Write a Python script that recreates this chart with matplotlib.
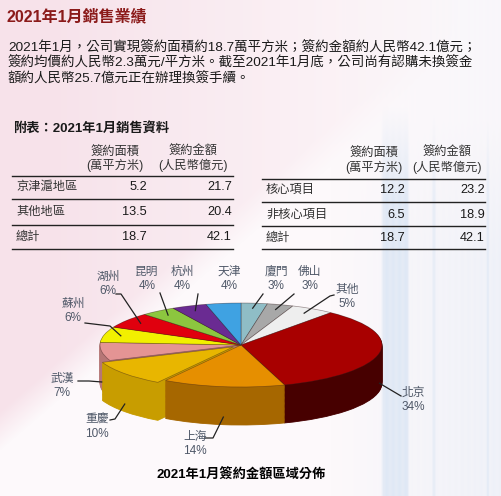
import numpy as np
import matplotlib
matplotlib.use('Agg')
import matplotlib.pyplot as plt
from matplotlib.colors import to_rgb

plt.rcParams['font.family'] = ['Liberation Sans', 'Noto Sans CJK TC', 'DejaVu Sans']

# ---- data ----
title = '2021年1月銷售業績'
para = ['2021年1月，公司實現簽約面積約18.7萬平方米；簽約金額約人民幣42.1億元；',
        '簽約均價約人民幣2.3萬元/平方米。截至2021年1月底，公司尚有認購未換簽金',
        '額約人民幣25.7億元正在辦理換簽手續。']
table_title = '附表：2021年1月銷售資料'
col_heads = [('簽約面積', '(萬平方米)'), ('簽約金額', '(人民幣億元)')]

region_rows = ['京津滬地區', '其他地區', '總計']
region_area = [5.2, 13.5, 18.7]
region_amount = [21.7, 20.4, 42.1]

project_rows = ['核心項目', '非核心項目', '總計']
project_area = [12.2, 6.5, 18.7]
project_amount = [23.2, 18.9, 42.1]

cities = ['廈門', '佛山', '其他', '北京', '上海', '重慶', '武漢', '蘇州', '湖州', '昆明', '杭州', '天津']
shares = [3, 3, 5, 34, 14, 10, 7, 6, 6, 4, 4, 4]
pie_colors = ['#8fbdc6', '#a8a8a8', '#eeeeee', '#a80000', '#e68f00', '#e8b600',
              '#e49494', '#f2f000', '#e0000e', '#8cc63f', '#6a2b92', '#3fa2e2']
caption = '2021年1月簽約金額區域分佈'

W, H = 502, 496
fig = plt.figure(figsize=(W / 100, H / 100), dpi=100)

# background
bg = fig.add_axes([0, 0, 1, 1])
bg.set_xlim(0, W)
bg.set_ylim(H, 0)
bg.axis('off')
yy, xx = np.mgrid[0:H, 0:W].astype(float)
pink = np.array([247, 226, 234]) / 255
white = np.array([253, 249, 251]) / 255
blue = np.array([214, 227, 243]) / 255
t = np.clip((450 - 0.86 * xx - yy) / 40, 0, 1) * np.clip(1.1 - xx / 420, 0, 1)
img = white[None, None, :] * (1 - t[..., None]) + pink[None, None, :] * t[..., None]
b = np.clip((xx - 330) / 200, 0, 1) * 0.45 * np.clip((yy - 60) / 200, 0.3, 1)
for x0, x1, wgt in [(380, 410, 0.75), (430, 437, 0.6), (484, 491, 0.6)]:
    band = np.clip(np.minimum(xx - x0, x1 - xx) / 3, 0, 1) * np.clip((yy - 100) / 100, 0, 1)
    b = np.maximum(b, band * wgt)
b = b * (0.85 + 0.15 * np.sin(xx / 2.0) ** 2)
img = img * (1 - b[..., None]) + blue[None, None, :] * b[..., None]
bg.imshow(img, extent=(0, W, H, 0), aspect='auto', zorder=0)

dark = '#1a1a1a'
grey = '#333333'

# title + paragraph
bg.text(7, 17, title, fontsize=11.5, fontweight='bold', color='#8b1a1a', va='center')
for i, line in enumerate(para):
    bg.text(8, 48 + i * 15.3, line, fontsize=9.7, color=dark, va='center')
bg.text(13, 128, table_title, fontsize=9.5, fontweight='bold', color=dark, va='center')


def draw_table(x0, x1, head_x, num_x, lab_x, line_y, row_y, head_y, rows, c1, c2):
    for (h1, h2), hx in zip(col_heads, head_x):
        bg.text(hx, head_y[0], h1, fontsize=8.8, color=grey, ha='center', va='center')
        bg.text(hx, head_y[1], h2, fontsize=8.8, color=grey, ha='center', va='center')
    for ly in line_y:
        bg.plot([x0, x1], [ly, ly], color='#222222', lw=1.0)
    for r, ry_, a, m in zip(rows, row_y, c1, c2):
        bg.text(lab_x, ry_, r, fontsize=8.8, color=grey, va='center')
        bg.text(num_x[0], ry_, f'{a:.1f}', fontsize=9.2, color=dark, ha='right', va='center')
        bg.text(num_x[1], ry_, f'{m:.1f}', fontsize=9.2, color=dark, ha='right', va='center')


draw_table(12, 233, (115, 193), (147, 232), 16, (176, 199, 225, 249),
           (187, 212, 237), (152, 165), region_rows, region_area, region_amount)
draw_table(262, 485, (374, 447), (405, 485), 266, (179, 202, 226, 249),
           (190, 215, 238), (153, 167), project_rows, project_area, project_amount)

# ---- 3D-looking pie ----
cx, cy, rx, ry = 241, 345, 141, 42
depth = 38 / ry
left, right, top, bottom = 72, 410, 295, 440
ax = fig.add_axes([left / W, 1 - bottom / H, (right - left) / W, (bottom - top) / H])
explode = [0.07 if c == '重慶' else 0 for c in cities]
shade = {'北京': 0.42, '上海': 0.72, '重慶': 0.86, '武漢': 0.8}
side_colors = [tuple(np.array(to_rgb(col)) * shade.get(c, 0.75))
               for c, col in zip(cities, pie_colors)]

for d in np.linspace(depth, 0.02, 45):
    wedges, _ = ax.pie(shares, colors=side_colors, startangle=90, counterclock=False,
                       explode=explode, center=(0, -d), wedgeprops=dict(linewidth=0.6))
    for w in wedges:
        w.set_edgecolor(w.get_facecolor())
wedges, _ = ax.pie(shares, colors=pie_colors, startangle=90, counterclock=False,
                   explode=explode, wedgeprops=dict(linewidth=0.5, edgecolor=(0.2, 0.1, 0.1, 0.45)))
ax.set_aspect('auto')
ax.set_xlim((left - cx) / rx, (right - cx) / rx)
ax.set_ylim((cy - bottom) / ry, (cy - top) / ry)

# labels and leader lines
ov = fig.add_axes([0, 0, 1, 1])
ov.set_xlim(0, W)
ov.set_ylim(H, 0)
ov.axis('off')

label_xy = {'湖州': (108, 277), '昆明': (147, 272), '杭州': (182, 272), '天津': (229, 272),
            '廈門': (276, 272), '佛山': (310, 272), '其他': (347, 290), '蘇州': (73, 304),
            '武漢': (62, 379), '重慶': (97, 420), '上海': (195, 437), '北京': (413, 393)}
leader_start = {'湖州': [(116, 294), (121, 294)], '昆明': [(160, 293)], '杭州': [(198, 294)],
                '廈門': [(263, 294)], '佛山': [(294, 294)], '其他': [(334, 295), (330, 296)],
                '蘇州': [(85, 323), (110, 326)], '武漢': [(78, 381), (89, 381)],
                '重慶': [(110, 420), (115, 419)], '上海': [(205, 438), (213, 438)],
                '北京': [(401, 396)]}

label_color = '#4f5868'
cum = np.cumsum([0] + shares[:-1])
total = sum(shares)
for i, c in enumerate(cities):
    lx, ly = label_xy[c]
    ov.text(lx, ly, c, fontsize=8.5, color=label_color, ha='center', va='center')
    ov.text(lx, ly + 14, f'{shares[i]}%', fontsize=8.5, color=label_color, ha='center', va='center')
    if c not in leader_start:
        continue
    mid = (cum[i] + shares[i] / 2) / total * 360
    phi = np.radians(90 - mid)
    front = 90 < mid < 270
    r = 1.0 if front else 0.88
    x = (r + explode[i]) * np.cos(phi)
    y = (r + explode[i]) * np.sin(phi) - (0.8 * depth if front else 0)
    p = ov.transData.inverted().transform(ax.transData.transform((x, y)))
    pts = leader_start[c] + [tuple(p)]
    ov.plot([q[0] for q in pts], [q[1] for q in pts], color='#222222', lw=0.9)

ov.text(241, 475, caption, fontsize=9.5, fontweight='bold', color='black', ha='center', va='center')

fig.savefig('out.png', dpi=100)
